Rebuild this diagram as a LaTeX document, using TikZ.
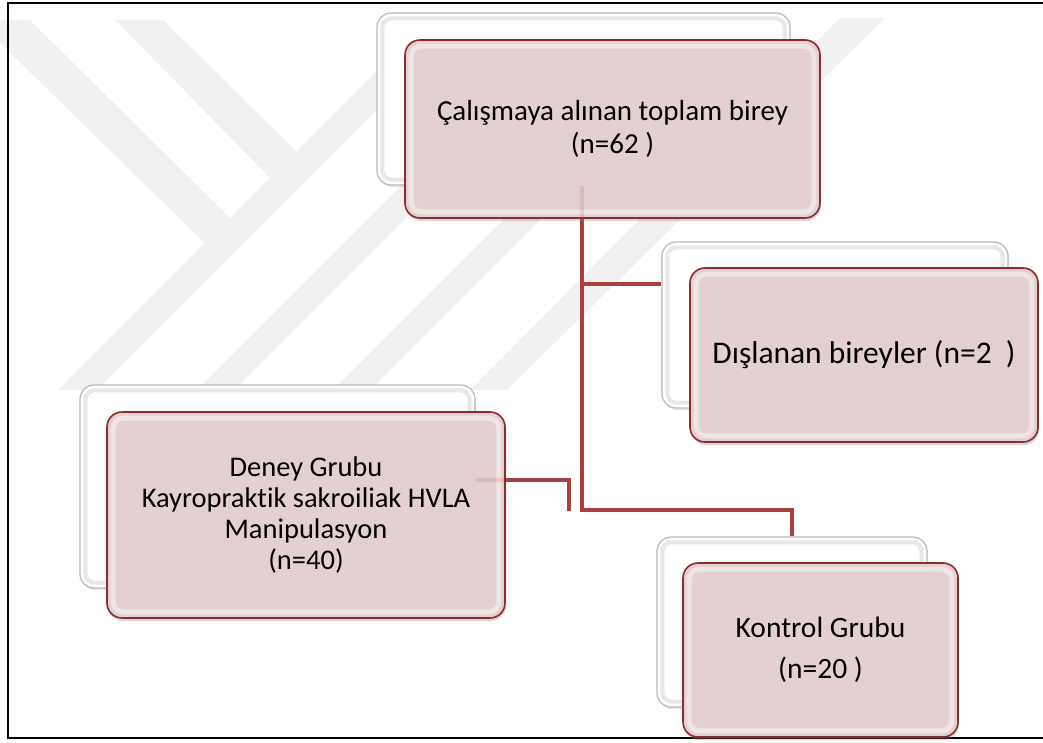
\documentclass[tikz,border=0pt]{standalone}
\usepackage{fontspec}
\setmainfont{Carlito}[Ligatures=NoCommon]
\usetikzlibrary{shadows,calc}
\definecolor{wm}{RGB}{241,241,241}
\definecolor{pinkfill}{RGB}{228,208,208}
\definecolor{pinkdraw}{RGB}{140,45,45}
\definecolor{connred}{RGB}{168,64,64}
\tikzset{
  wmark/.style={fill=wm, draw=none},
  shadowbox/.style={rounded corners=14pt, fill=white, draw=gray!55, line width=1.2pt,
    drop shadow={opacity=0.18, shadow xshift=1pt, shadow yshift=-2pt}},
  shadowbevel/.style={draw=gray!18, line width=4pt, rounded corners=9pt},
  pinkbox/.style={rounded corners=15pt, fill=pinkfill, draw=pinkdraw, line width=1.6pt,
    align=center, inner sep=0pt,
    drop shadow={opacity=0.3, shadow xshift=1pt, shadow yshift=-3pt}},
  pinkbevel/.style={draw=white, opacity=0.45, line width=5pt, rounded corners=10pt},
  connector/.style={draw=connred, line width=4.5pt},
  faint/.style={draw=connred, line width=4.5pt, opacity=0.15},
  frame/.style={draw=black, line width=1.6pt}
}
\begin{document}
\begin{tikzpicture}[x=1pt,y=-1pt]
\useasboundingbox (0,0) rectangle (1043,742);
% watermark
\fill[wmark] (58,390) -- (97,390) -- (472,15) -- (433,15) -- cycle;
\fill[wmark] (197,390) -- (234,390) -- (609,15) -- (572,15) -- cycle;
\fill[wmark] (333,390) -- (370,390) -- (745,15) -- (708,15) -- cycle;
\fill[wmark] (470,390) -- (507,390) -- (885,18) -- (840,18) -- cycle;
\fill[wmark] (0,20) -- (30,20) -- (240,228) -- (215,253) -- (0,43) -- cycle;
\fill[wmark] (115,20) -- (163,20) -- (305,160) -- (280,188) -- cycle;
% frame
\draw[frame] (1043,3) -- (8,3) -- (8,738) -- (1043,738);
% shadow boxes
\node[shadowbox, minimum width=413, minimum height=172] (tw) at (583.5,99) {};
\node[shadowbox, minimum width=346, minimum height=166] (dw) at (835,325) {};
\node[shadowbox, minimum width=395, minimum height=203] (ew) at (277.5,486.5) {};
\node[shadowbox, minimum width=270, minimum height=170] (kw) at (792,622) {};
\foreach \n in {tw,dw,ew,kw}
  \draw[shadowbevel] ($(\n.north west)+(6,6)$) rectangle ($(\n.south east)+(-6,-6)$);
% connectors
\coordinate (j1) at (582,284);
\coordinate (j2) at (582,510);
\coordinate (d1) at (569,480);
\coordinate (d2) at (569,511);
\draw[connector] (tw.south -| j1) -- (j2) -| (kw.north);
\draw[connector] (j1) -- (dw.west |- j1);
\draw[connector] (ew.east |- d1) -- (d1) -- (d2);
% main boxes
\node[pinkbox, minimum width=415, minimum height=178, font=\fontsize{29}{33}\selectfont] (tp) at (612.5,129)
  {Çalışmaya alınan toplam birey\\(n=62 )};
\node[pinkbox, minimum width=348, minimum height=174, font=\fontsize{31.5}{36}\selectfont] (dp) at (864,355)
  {Dışlanan bireyler (n=2\ \ )};
\node[pinkbox, minimum width=398, minimum height=206, font=\fontsize{28.5}{31}\selectfont] (ep) at (306,515)
  {Deney Grubu\\Kayropraktik sakroiliak HVLA\\Manipulasyon\\(n=40)};
\node[pinkbox, minimum width=275, minimum height=174, font=\fontsize{29.5}{33}\selectfont] (kp) at (820.5,650)
  {Kontrol Grubu\\[8pt](n=20 )};
\foreach \n in {tp,dp,ep,kp}
  \draw[pinkbevel] ($(\n.north west)+(7,7)$) rectangle ($(\n.south east)+(-7,-7)$);
% faint parts of connectors seen through the boxes
\draw[faint] (tw.south -| j1) -- (tp.south -| j1);
\draw[faint] (ew.east |- d1) -- (ep.east |- d1);
\end{tikzpicture}
\end{document}
